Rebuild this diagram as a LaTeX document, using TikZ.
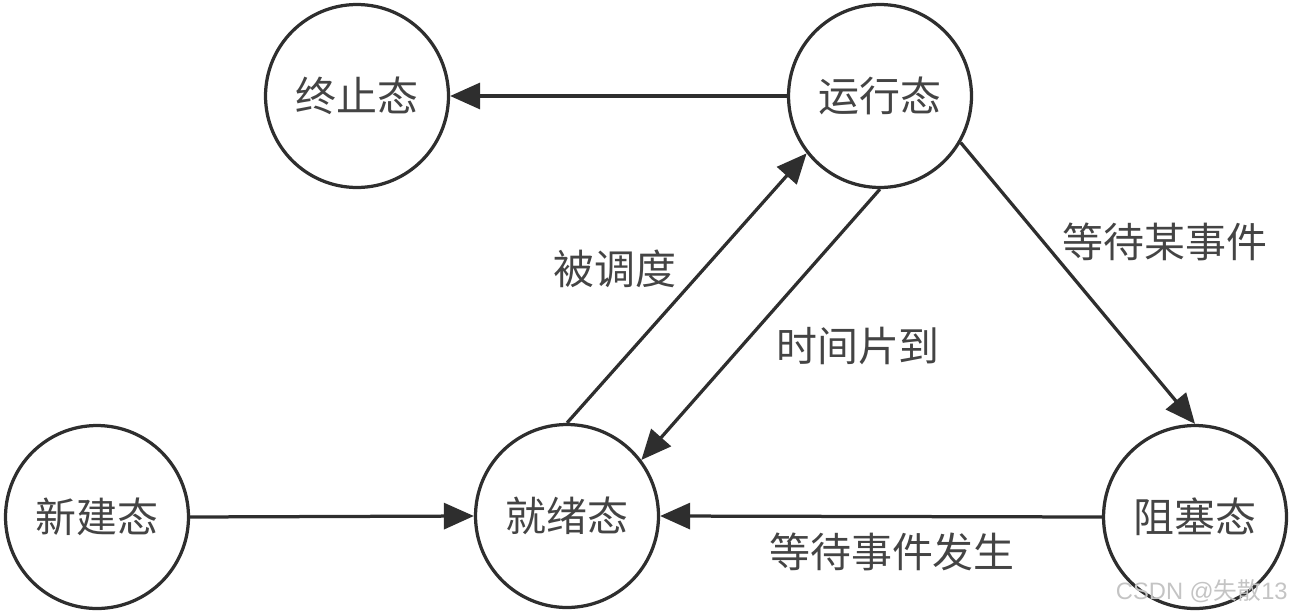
\documentclass[tikz,border=0pt]{standalone}
\usepackage{fontspec}
\newfontfamily\cjk{Noto Sans CJK SC}
\newfontfamily\wmfont{Liberation Sans}
\usetikzlibrary{arrows.meta}
\definecolor{linec}{HTML}{2E2E2E}
\definecolor{textc}{HTML}{444444}
\definecolor{wmark}{HTML}{C4C4C4}
\begin{document}
\begin{tikzpicture}[x=0.02cm,y=-0.02cm,
  state/.style={circle,draw=linec,line width=0.065cm,minimum size=3.66cm,inner sep=0pt,
    font=\cjk\fontsize{23.3}{28}\selectfont,text=textc},
  lbl/.style={font=\cjk\fontsize{23.3}{28}\selectfont,text=textc,inner sep=0pt},
  conn/.style={draw=linec,line width=0.065cm,-{Triangle[length=0.6cm,width=0.52cm]}}]
\useasboundingbox (0,0) rectangle (1293,612);
\node[state] (end) at (357,96) {终止态};
\node[state] (run) at (880,96) {运行态};
\node[state] (new) at (97,517) {新建态};
\node[state] (ready) at (567,516) {就绪态};
\node[state] (block) at (1195,517) {阻塞态};
\draw[conn] (run.west) -- (end.east);
\draw[conn] (ready.north) -- (run.218);
\draw[conn] (run.south) -- (ready.37.5);
\draw[conn] (run.-30) -- (block.north);
\draw[conn] (block.west) -- (ready.east);
\draw[conn] (new.east) -- (ready.west);
\node[lbl] (l1) at (615,269) {被调度};
\node[lbl] (l2) at (858,346) {时间片到};
\node[lbl] (l3) at (1165,242) {等待某事件};
\node[lbl] (l4) at (892,552) {等待事件发生};
\node[text=wmark,inner sep=0pt,anchor=east] (wm) at (1288,591) {\wmfont\fontsize{13.5}{16}\selectfont CSDN @\cjk 失散\wmfont 13};
\end{tikzpicture}
\end{document}
